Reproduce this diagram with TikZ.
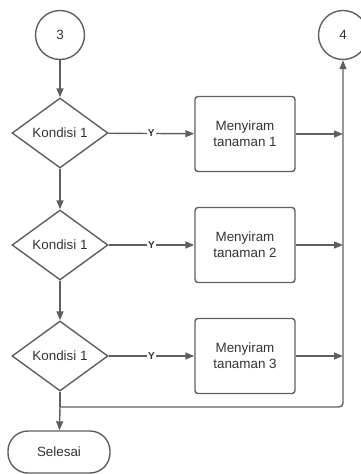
\documentclass[tikz,border=0pt]{standalone}
\usepackage{fontspec}
\setmainfont{Liberation Sans}
\usepackage{tikz}
\usetikzlibrary{arrows.meta}
\usetikzlibrary{shapes.geometric}

\definecolor{lineGray}{HTML}{5F5F5F}
\definecolor{textGray}{HTML}{333333}

\begin{document}
\begin{tikzpicture}[x=1pt, y=-1pt, line width=1.4pt, draw=lineGray, text=textGray,
    font=\fontsize{13.4}{16}\selectfont,
    connector/.style={circle, draw=lineGray, minimum size=49pt, inner sep=0pt},
    decision/.style={diamond, draw=lineGray, aspect=1.37, minimum width=96pt, minimum height=70pt, inner sep=0pt},
    process/.style={rectangle, draw=lineGray, rounded corners=3pt, minimum width=100pt, minimum height=75pt, align=center},
    terminal/.style={rectangle, draw=lineGray, rounded corners=20pt, minimum width=102pt, minimum height=42pt},
    flow/.style={draw=lineGray, -{Triangle[length=9pt, width=7pt]}},
    yes/.style={fill=white, inner sep=1pt, font=\fontsize{10}{12}\selectfont\bfseries}]
    \useasboundingbox (0, 0) rectangle (361, 474); % REMOVE ME
    \node[connector] (con3) at (60, 35) {3};
    \node[connector] (con4) at (343, 35) {4};
    \node[decision] (cond1) at (60, 133) {Kondisi 1};
    \node[decision] (cond2) at (60, 245) {Kondisi 1};
    \node[decision] (cond3) at (60, 356) {Kondisi 1};
    \node[process] (water1) at (245, 134) {Menyiram\\tanaman 1};
    \node[process] (water2) at (245, 245) {Menyiram\\tanaman 2};
    \node[process] (water3) at (245, 356) {Menyiram\\tanaman 3};
    \node[terminal] (done) at (59, 452) {Selesai};
    \coordinate (join) at (60, 407);

    \draw[flow] (con3) -- (cond1);
    \draw[flow] (cond1) -- (cond2);
    \draw[flow] (cond2) -- (cond3);
    \draw (cond3) -- (join);
    \draw[flow] (join) -- (done);
    \foreach \i in {1,2,3} {
        \draw[flow] (cond\i) -- node[yes] {Y} (water\i);
        \draw[flow] (water\i.east) -- (water\i.east -| con4.south);
    }
    \draw[flow, rounded corners=4pt] (join) -| (con4.south);
\end{tikzpicture}
\end{document}
